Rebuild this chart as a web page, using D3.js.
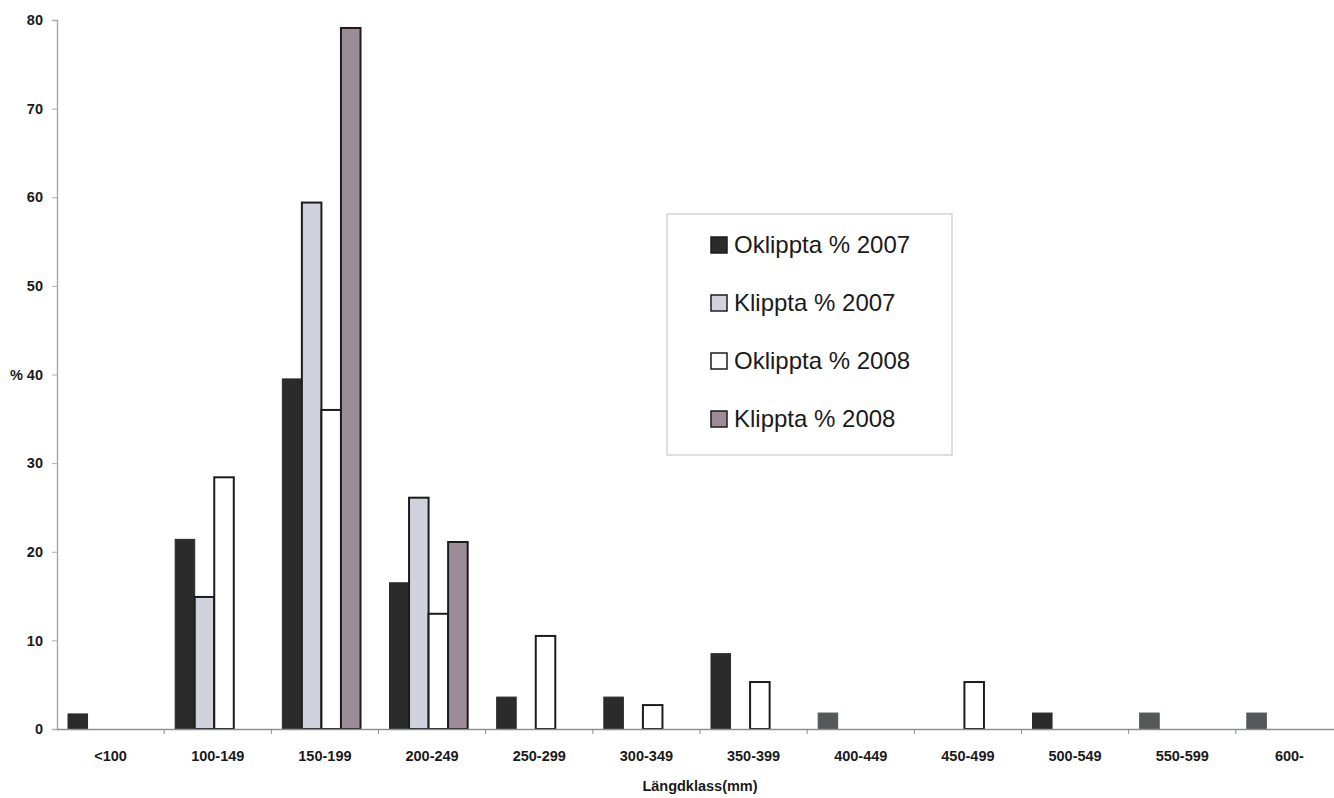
<!DOCTYPE html>
<html>
<head>
<meta charset="utf-8">
<script src="https://cdn.jsdelivr.net/npm/d3@7"></script>
<style>
  html, body { margin: 0; padding: 0; background: #fff; }
  svg { display: block; }
  text { font-family: "Liberation Sans", Arial, sans-serif; fill: #1a1a1a; }
</style>
</head>
<body>
<svg id="chart" width="1334" height="798"></svg>
<script>
// Length classes (mm)
const categories = ["<100", "100-149", "150-199", "200-249", "250-299", "300-349",
                    "350-399", "400-449", "450-499", "500-549", "550-599", "600-"];

// Share of fish per length class, %
const oklippta2007 = [1.7, 21.4, 39.5, 16.5, 3.6, 3.6, 8.5, 1.8, 0, 1.8, 1.8, 1.8];
const klippta2007  = [0, 14.9, 59.4, 26.1, 0, 0, 0, 0, 0, 0, 0, 0];
const oklippta2008 = [0, 28.4, 36.0, 13.0, 10.5, 2.7, 5.3, 0, 5.3, 0, 0, 0];
const klippta2008  = [0, 0, 79.1, 21.1, 0, 0, 0, 0, 0, 0, 0, 0];

const seriesNames = ["Oklippta % 2007", "Klippta % 2007", "Oklippta % 2008", "Klippta % 2008"];
const yTicks = [0, 10, 20, 30, 40, 50, 60, 70, 80];

const seriesValues = [oklippta2007, klippta2007, oklippta2008, klippta2008];
const fills = ["#2b2b2b", "#d2d2de", "#ffffff", "#9c8c97"];
// A few of the darkest bars print in a lighter grey
const lighterDark = new Set(["400-449", "550-599", "600-"]);

const svg = d3.select("#chart");
const x0 = 57, x1 = 1343, yBase = 729, yTop = 20;

const x = d3.scaleBand().domain(categories).range([x0, x1]).paddingInner(0).paddingOuter(0);
const xs = d3.scaleBand().domain(d3.range(4)).range([11, x.bandwidth() - 18]).padding(0);
const y = d3.scaleLinear().domain([0, 80]).range([yBase, yTop]);

// Y axis
const yAxis = svg.append("g").attr("transform", `translate(${x0},0)`)
  .call(d3.axisLeft(y).tickValues(yTicks).tickSize(5).tickPadding(9));
yAxis.select(".domain").attr("stroke", "#a9adad").attr("stroke-width", 1.5);
yAxis.selectAll(".tick line").attr("stroke", "#a9adad");
yAxis.selectAll(".tick text")
  .attr("font-size", 14.5).attr("font-weight", "bold").attr("fill", "#1a1a1a")
  .attr("font-family", "'Liberation Sans', Arial, sans-serif")
  .text(d => d === 40 ? "% 40" : d);

// Bars
categories.forEach((c, i) => {
  seriesValues.forEach((vals, s) => {
    const v = vals[i];
    if (!v) return;
    const bx = x(c) + xs(s);
    let fill = fills[s];
    if (s === 0 && lighterDark.has(c)) fill = "#545858";
    svg.append("rect")
      .attr("x", bx).attr("y", y(v))
      .attr("width", xs.bandwidth()).attr("height", y(0) - y(v))
      .attr("fill", fill)
      .attr("stroke", s === 0 ? fill : "#1c1c1c")
      .attr("stroke-width", s === 0 ? 1 : 2);
  });
});

// X axis
const xAxis = svg.append("g").attr("transform", `translate(0,${yBase})`)
  .call(d3.axisBottom(x).tickSize(0).tickPadding(22));
xAxis.select(".domain").attr("stroke", "#8c9090").attr("stroke-width", 1.5);
xAxis.selectAll(".tick text")
  .attr("font-size", 14.5).attr("font-weight", "bold").attr("fill", "#1a1a1a")
  .attr("font-family", "'Liberation Sans', Arial, sans-serif");
// Class boundary ticks
svg.append("g").selectAll("line")
  .data(categories.slice(1))
  .join("line")
  .attr("x1", d => x(d)).attr("x2", d => x(d))
  .attr("y1", yBase).attr("y2", yBase + 5)
  .attr("stroke", "#8c9090").attr("stroke-width", 1);

// Axis title
svg.append("text")
  .attr("x", 700).attr("y", 791)
  .attr("text-anchor", "middle")
  .attr("font-size", 14.5).attr("font-weight", "bold")
  .text("Längdklass(mm)");

// Legend
const lg = svg.append("g").attr("transform", "translate(667,214)");
lg.append("rect").attr("width", 285).attr("height", 241)
  .attr("fill", "#fff").attr("stroke", "#c8c8c8").attr("stroke-width", 1.2);
seriesNames.forEach((name, s) => {
  const cy = 30 + s * 58;
  lg.append("rect").attr("x", 44).attr("y", cy - 7).attr("width", 16).attr("height", 16)
    .attr("fill", fills[s]).attr("stroke", "#1c1c1c").attr("stroke-width", 1.5);
  lg.append("text").attr("x", 67).attr("y", cy + 9)
    .attr("font-size", 24).text(name);
});
</script>
</body>
</html>
